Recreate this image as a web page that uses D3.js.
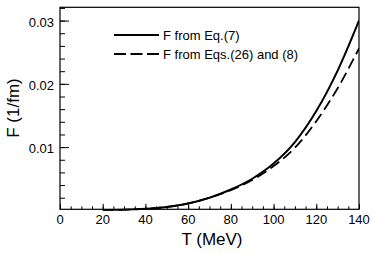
<!DOCTYPE html>
<html lang="en">
<head>
    <meta charset="UTF-8">
    <title>F vs T</title>
    <script src="https://d3js.org/d3.v7.min.js"></script>
    <style>
        body {
            margin: 0;
            background: #fff;
        }
        svg text {
            font-family: "Liberation Sans", Arial, sans-serif;
            fill: #000;
        }
    </style>
</head>
<body>
    <div id="chart"></div>

    <script>
        // data (T in MeV, F in 1/fm)
        const temps = [20, 30, 40, 50, 60, 70, 80, 90, 100, 110, 120, 130, 140];
        const fEq7 = [0.00002, 0.00008, 0.00024, 0.00055, 0.0011, 0.0020, 0.0033, 0.0050, 0.0074, 0.0108, 0.0157, 0.0221, 0.0300];
        const fEq26 = [0.00002, 0.00008, 0.00024, 0.00055, 0.0011, 0.0020, 0.0032, 0.0048, 0.0070, 0.0099, 0.0141, 0.0193, 0.0256];
        const xTicks = [0, 20, 40, 60, 80, 100, 120, 140];
        const yTicks = [0.01, 0.02, 0.03];
        const legendLabels = ["F from Eq.(7)", "F from Eqs.(26) and (8)"];

        const width = 374;
        const height = 253;
        const margin = { top: 7.3, right: 15, bottom: 43.7, left: 60 };
        const w = width - margin.left - margin.right;
        const h = height - margin.top - margin.bottom;

        const svg = d3.select("#chart")
            .append("svg")
            .attr("width", width)
            .attr("height", height);

        const x = d3.scaleLinear().domain([0, 140]).range([0, w]);
        const y = d3.scaleLinear().domain([0.00017, 0.0321]).range([h, 0]);

        const g = svg.append("g")
            .attr("transform", `translate(${margin.left},${margin.top})`);

        // let the curve sit on the bottom frame line a little, as in the original
        g.append("clipPath").attr("id", "clip")
            .append("rect").attr("width", w).attr("height", h + 1.5);

        // minor ticks
        g.append("g")
            .attr("transform", `translate(0,${h})`)
            .call(d3.axisTop(x).tickValues(d3.range(5, 140, 5)).tickSize(3).tickFormat(""))
            .call(a => a.select(".domain").remove());
        g.append("g")
            .call(d3.axisRight(y).tickValues(d3.range(0.002, 0.0321, 0.002)).tickSize(5).tickFormat(""))
            .call(a => a.select(".domain").remove());

        // major ticks
        g.append("g")
            .attr("transform", `translate(0,${h})`)
            .call(d3.axisTop(x).tickValues(xTicks).tickSize(5.5).tickFormat(""))
            .call(a => a.select(".domain").remove());
        g.append("g")
            .call(d3.axisRight(y).tickValues(yTicks).tickSize(9).tickFormat(""))
            .call(a => a.select(".domain").remove());

        // tick labels
        g.append("g").selectAll("text")
            .data(xTicks)
            .enter()
            .append("text")
            .attr("x", d => x(d))
            .attr("y", h + 14.5)
            .attr("text-anchor", "middle")
            .style("font-size", "13px")
            .text(d => d);

        g.append("g").selectAll("text")
            .data(yTicks)
            .enter()
            .append("text")
            .attr("x", -6)
            .attr("y", d => y(d) + 6)
            .attr("text-anchor", "end")
            .style("font-size", "13px")
            .text(d => d.toFixed(2));

        // curves
        const line = vals => d3.line()
            .x((d, i) => x(temps[i]))
            .y(d => y(d))
            .curve(d3.curveMonotoneX)(vals);

        g.append("path")
            .attr("clip-path", "url(#clip)")
            .attr("d", line(fEq7))
            .attr("fill", "none")
            .attr("stroke", "#000")
            .attr("stroke-width", 2);

        g.append("path")
            .attr("clip-path", "url(#clip)")
            .attr("d", line(fEq26))
            .attr("fill", "none")
            .attr("stroke", "#000")
            .attr("stroke-width", 1.8)
            .attr("stroke-dasharray", "11,5");

        // frame
        g.append("rect")
            .attr("width", w)
            .attr("height", h)
            .attr("fill", "none")
            .attr("stroke", "#000")
            .attr("stroke-width", 1.2);

        // axis titles
        svg.append("text")
            .attr("x", 212)
            .attr("y", 245)
            .attr("text-anchor", "middle")
            .style("font-size", "17px")
            .text("T (MeV)");

        svg.append("text")
            .attr("transform", "translate(19,108) rotate(-90)")
            .attr("text-anchor", "middle")
            .style("font-size", "17px")
            .text("F (1/fm)");

        // legend
        const legend = svg.append("g");
        legendLabels.forEach((label, i) => {
            const ly = 35 + i * 19;
            legend.append("line")
                .attr("x1", 114).attr("x2", 159)
                .attr("y1", ly).attr("y2", ly)
                .attr("stroke", "#000")
                .attr("stroke-width", 2)
                .attr("stroke-dasharray", i === 0 ? null : "12,4.5");
            legend.append("text")
                .attr("x", 163)
                .attr("y", ly + 4.5)
                .style("font-size", "13px")
                .text(label);
        });
    </script>
</body>
</html>
